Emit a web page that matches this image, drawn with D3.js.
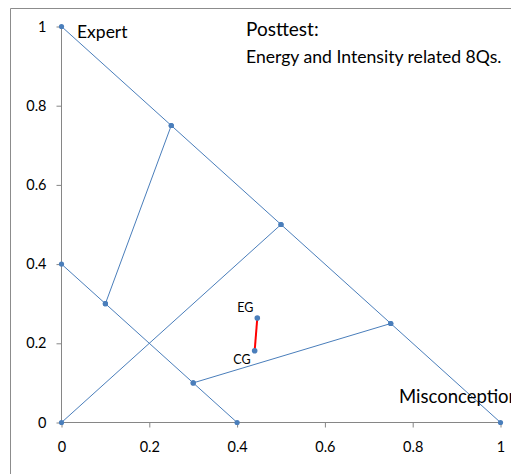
<!DOCTYPE html>
<html>
<head>
<meta charset="utf-8">
<script src="https://cdn.jsdelivr.net/npm/d3@7"></script>
<style>
  html, body { margin: 0; padding: 0; background: #fff; }
  svg { display: block; font-family: Lato, "Open Sans", sans-serif; }
</style>
</head>
<body>
<svg id="chart" width="511" height="474"></svg>
<script>
// line series of the triangle diagram (x, y pairs)
var diagX = [0, 0.25, 0.5, 0.75, 1];
var diagY = [1, 0.75, 0.5, 0.25, 0];
var upperX = [0.25, 0.1];
var upperY = [0.75, 0.3];
var lowerX = [0, 0.1, 0.3, 0.4];
var lowerY = [0.4, 0.3, 0.1, 0];
var midX = [0, 0.5];
var midY = [0, 0.5];
var rightX = [0.3, 0.75];
var rightY = [0.1, 0.25];

// experiment / control group
var groupNames = ["EG", "CG"];
var groupX = [0.446, 0.44];
var groupY = [0.264, 0.181];

var xTicks = [0, 0.2, 0.4, 0.6, 0.8, 1];
var yTicks = [0, 0.2, 0.4, 0.6, 0.8, 1];

var blue = "#4a7ebb";
var axisGrey = "#868686";

var svg = d3.select("#chart");

var x = d3.scaleLinear().domain([0, 1]).range([61.5, 500.5]);
var y = d3.scaleLinear().domain([0, 1]).range([422.5, 26.5]);

// chart area frame (only top and left are in view)
svg.append("path")
  .attr("d", "M10.5,474V8.5H511")
  .attr("fill", "none")
  .attr("stroke", "#8c8c8c")
  .attr("stroke-width", 1);

var xAxis = svg.append("g")
  .attr("transform", "translate(0," + y(0) + ")")
  .call(d3.axisBottom(x).tickValues(xTicks).tickFormat(d3.format("")).tickSize(5).tickPadding(14));
var yAxis = svg.append("g")
  .attr("transform", "translate(" + x(0) + ",0)")
  .call(d3.axisLeft(y).tickValues(yTicks).tickFormat(d3.format("")).tickSize(5).tickPadding(10));

[xAxis, yAxis].forEach(function (g) {
  g.select(".domain").attr("stroke", axisGrey);
  g.selectAll(".tick line").attr("stroke", axisGrey);
  g.selectAll(".tick text")
    .attr("fill", "#000")
    .style("font-size", "14.5px")
    .style("font-family", "Lato, sans-serif");
});
xAxis.select(".domain").attr("d", "M" + x(0) + ",0H" + x(1));
yAxis.select(".domain").attr("d", "M0," + y(0) + "V" + y(1));

function zip(xs, ys) {
  return xs.map(function (d, i) { return [d, ys[i]]; });
}

var line = d3.line()
  .x(function (d) { return x(d[0]); })
  .y(function (d) { return y(d[1]); });

var series = [
  zip(diagX, diagY),
  zip(upperX, upperY),
  zip(lowerX, lowerY),
  zip(midX, midY),
  zip(rightX, rightY)
];

series.forEach(function (pts) {
  svg.append("path")
    .datum(pts)
    .attr("d", line)
    .attr("fill", "none")
    .attr("stroke", blue)
    .attr("stroke-width", 1);
  svg.append("g").selectAll("circle")
    .data(pts)
    .join("circle")
    .attr("cx", function (d) { return x(d[0]); })
    .attr("cy", function (d) { return y(d[1]); })
    .attr("r", 2.6)
    .attr("fill", blue);
});

var groupPts = zip(groupX, groupY);
svg.append("path")
  .datum(groupPts)
  .attr("d", line)
  .attr("fill", "none")
  .attr("stroke", "#ff0000")
  .attr("stroke-width", 2);
svg.append("g").selectAll("circle")
  .data(groupPts)
  .join("circle")
  .attr("cx", function (d) { return x(d[0]); })
  .attr("cy", function (d) { return y(d[1]); })
  .attr("r", 2.8)
  .attr("fill", blue);

// group labels
svg.append("g").selectAll("text")
  .data(groupPts)
  .join("text")
  .attr("x", function (d) { return x(d[0]) - 4; })
  .attr("y", function (d, i) { return i === 0 ? y(d[1]) - 6 : y(d[1]) + 13; })
  .attr("text-anchor", "end")
  .style("font-size", "12.5px")
  .text(function (d, i) { return groupNames[i]; });

// corner labels and title
svg.append("text").attr("x", 77).attr("y", 38).style("font-size", "17.5px").text("Expert");
svg.append("text").attr("x", 399).attr("y", 403).style("font-size", "18.5px").text("Misconception");
svg.append("text").attr("x", 246).attr("y", 36).style("font-size", "19px").text("Posttest:");
svg.append("text").attr("x", 246).attr("y", 63).style("font-size", "17.6px").text("Energy and Intensity related 8Qs.");
</script>
</body>
</html>
